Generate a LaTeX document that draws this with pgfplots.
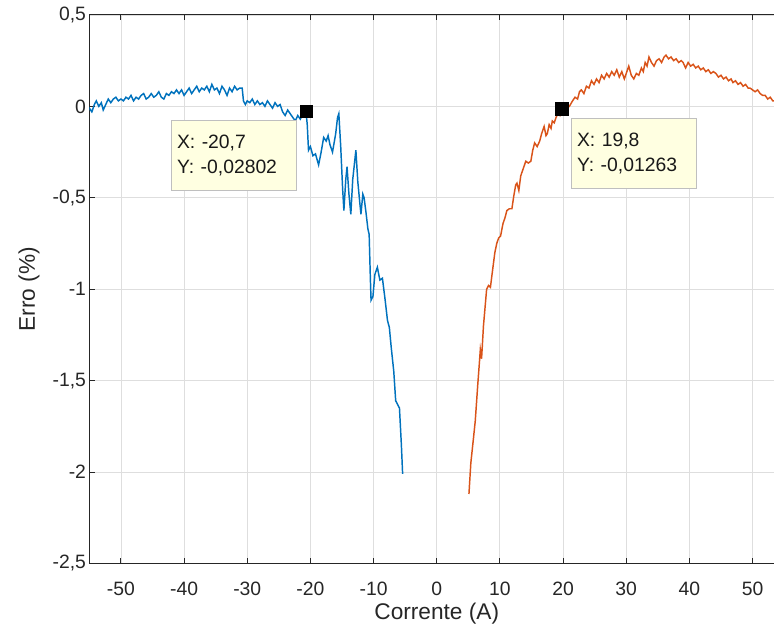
\documentclass[border=0pt]{standalone}
\usepackage{pgfplots}
\pgfplotsset{compat=1.18}
\usepackage{fontspec}
\setmainfont{Liberation Sans}
\definecolor{mblue}{rgb}{0,0.447,0.741}
\definecolor{morange}{rgb}{0.85,0.325,0.098}
\definecolor{tipyellow}{RGB}{255,255,225}
\definecolor{axgray}{RGB}{38,38,38}
\begin{document}
\begin{tikzpicture}
\begin{axis}[
  scale only axis,
  width=521.1pt, height=411.4pt,
  xmin=-55, xmax=55, ymin=-2.5, ymax=0.5,
  xtick={-50,-40,...,50},
  ytick={-2.5,-2,...,0.5},
  grid=major,
  major grid style={color=black!13, line width=0.6pt},
  axis line style={color=axgray, line width=0.8pt},
  tick style={color=axgray, line width=0.8pt},
  major tick length=4pt,
  tick align=inside,
  ticklabel style={font=\fontsize{14.5}{17}\selectfont, text=axgray},
  xticklabel style={yshift=-10pt},
  yticklabel style={xshift=1pt},
  label style={font=\fontsize{17}{20}\selectfont, text=axgray},
  /pgf/number format/.cd, use comma, 1000 sep={}, assume math mode=true,
  /pgfplots/.cd,
  xlabel={Corrente (A)},
  ylabel={Erro (\%)},
  xlabel style={yshift=1pt},
  ylabel style={yshift=3pt},
  clip=true,
]
\addplot[mblue, line width=1.1pt] coordinates {
(-55.6,-0.02) (-55.3,-0.04) (-55.0,-0.01) (-54.6,-0.03) (-54.2,0.01) (-53.9,0.03) (-53.5,0.00) (-53.1,0.02) (-52.8,-0.02) (-52.4,0.01)
(-52.0,0.04) (-51.6,0.02) (-51.2,0.04) (-50.8,0.05) (-50.4,0.03) (-50.0,0.04) (-49.6,0.03) (-49.2,0.05) (-48.8,0.04) (-48.4,0.06)
(-48.0,0.03) (-47.6,0.05) (-47.2,0.04) (-46.8,0.06) (-46.4,0.07) (-46.0,0.04) (-45.6,0.05) (-45.2,0.07) (-44.8,0.05) (-44.4,0.06)
(-44.0,0.08) (-43.6,0.05) (-43.2,0.04) (-42.8,0.07) (-42.4,0.06) (-42.0,0.08) (-41.6,0.07) (-41.2,0.09) (-40.8,0.07) (-40.4,0.09)
(-40.0,0.06) (-39.6,0.08) (-39.2,0.10) (-38.8,0.07) (-38.4,0.09) (-38.0,0.11) (-37.6,0.08) (-37.2,0.10) (-36.8,0.09) (-36.4,0.11)
(-36.0,0.08) (-35.6,0.12) (-35.2,0.09) (-34.8,0.10) (-34.4,0.07) (-34.0,0.11) (-33.6,0.09) (-33.2,0.06) (-32.8,0.10) (-32.4,0.08)
(-32.0,0.11) (-31.6,0.09) (-31.2,0.10) (-30.8,0.10) (-30.6,0.03) (-30.3,0.01) (-30.0,0.03) (-29.6,0.02) (-29.2,0.04) (-28.8,0.01)
(-28.4,0.03) (-28.0,0.01) (-27.6,0.02) (-27.2,0.00) (-26.8,0.03) (-26.4,0.01) (-26.0,-0.01) (-25.6,0.02) (-25.2,0.00) (-24.8,0.01)
(-24.4,-0.03) (-24.0,-0.05) (-23.6,-0.02) (-23.2,-0.04) (-22.8,-0.06) (-22.4,-0.08) (-22.0,-0.05) (-21.6,-0.07) (-21.2,-0.04) (-20.7,-0.028)
(-20.5,-0.10) (-20.3,-0.24) (-20.0,-0.22) (-19.6,-0.27) (-19.2,-0.26) (-18.7,-0.32) (-18.3,-0.25) (-17.9,-0.17) (-17.5,-0.19) (-17.2,-0.16)
(-16.9,-0.21) (-16.5,-0.25) (-16.0,-0.15) (-15.7,-0.06) (-15.5,-0.04) (-15.2,-0.22) (-14.9,-0.45) (-14.7,-0.57) (-14.4,-0.40) (-14.2,-0.33)
(-13.9,-0.48) (-13.6,-0.59) (-13.3,-0.40) (-12.8,-0.24) (-12.5,-0.41) (-12.2,-0.52) (-12.0,-0.59) (-11.7,-0.48) (-11.5,-0.50) (-11.2,-0.58)
(-10.9,-0.67) (-10.7,-0.70) (-10.5,-0.95) (-10.4,-1.06) (-10.1,-1.04) (-9.8,-0.92) (-9.4,-0.88) (-9.0,-0.95) (-8.6,-0.94) (-8.2,-1.05)
(-7.8,-1.17) (-7.5,-1.21) (-7.2,-1.32) (-6.8,-1.45) (-6.5,-1.61) (-6.2,-1.63) (-5.9,-1.65) (-5.6,-1.85) (-5.4,-2.01)
};
\addplot[morange, line width=1.1pt] coordinates {
(5.1,-2.12) (5.4,-1.95) (5.8,-1.82) (6.1,-1.72) (6.5,-1.52) (6.8,-1.38) (6.9,-1.33) (7.1,-1.38) (7.4,-1.20) (7.9,-1.00)
(8.2,-0.98) (8.5,-0.99) (8.9,-0.88) (9.2,-0.80) (9.5,-0.75) (9.8,-0.72) (10.1,-0.71) (10.5,-0.64) (10.8,-0.61) (11.1,-0.57)
(11.5,-0.56) (11.9,-0.56) (12.2,-0.49) (12.5,-0.43) (12.7,-0.42) (13.0,-0.46) (13.3,-0.38) (13.7,-0.34) (14.1,-0.30) (14.5,-0.31)
(14.9,-0.30) (15.2,-0.24) (15.5,-0.20) (15.9,-0.22) (16.3,-0.19) (16.6,-0.15) (17.0,-0.11) (17.3,-0.16) (17.5,-0.15) (17.8,-0.10)
(18.1,-0.12) (18.3,-0.08) (18.6,-0.09) (18.9,-0.06) (19.2,-0.04) (19.5,-0.05) (19.8,-0.01263) (20.2,-0.02) (20.6,0.01) (21.0,0.00)
(21.5,0.03) (21.9,0.05) (22.3,0.04) (22.6,0.08) (22.9,0.09) (23.3,0.07) (23.7,0.11) (24.1,0.10) (24.5,0.14) (24.9,0.12)
(25.3,0.15) (25.7,0.13) (26.1,0.17) (26.5,0.15) (26.9,0.18) (27.3,0.16) (27.7,0.19) (28.1,0.17) (28.5,0.20) (28.9,0.16)
(29.3,0.19) (29.7,0.15) (30.0,0.18) (30.4,0.22) (30.8,0.17) (31.2,0.15) (31.6,0.18) (32.0,0.17) (32.4,0.21) (32.7,0.19)
(33.0,0.24) (33.3,0.22) (33.6,0.27) (34.0,0.24) (34.4,0.22) (34.8,0.25) (35.2,0.26) (35.6,0.24) (36.0,0.27) (36.3,0.28)
(36.7,0.26) (37.1,0.27) (37.5,0.25) (37.9,0.26) (38.3,0.24) (38.7,0.25) (39.0,0.24) (39.4,0.21) (39.8,0.24) (40.2,0.22)
(40.6,0.23) (41.0,0.21) (41.4,0.22) (41.8,0.20) (42.2,0.21) (42.6,0.19) (43.0,0.20) (43.4,0.18) (43.8,0.19) (44.2,0.18)
(44.6,0.16) (45.0,0.17) (45.4,0.15) (45.8,0.16) (46.2,0.14) (46.6,0.15) (46.9,0.13) (47.3,0.14) (47.7,0.12) (48.1,0.13)
(48.5,0.11) (48.9,0.12) (49.3,0.10) (49.6,0.10) (50.0,0.09) (50.4,0.08) (50.8,0.09) (51.2,0.07) (51.6,0.06) (52.0,0.06)
(52.4,0.04) (52.8,0.05) (53.2,0.03) (53.6,0.03) (54.0,0.02) (54.4,0.01) (54.8,0.00)
};
\addplot[only marks, mark=square*, mark size=4.6pt, color=black] coordinates {(-20.7,-0.02802) (19.8,-0.01263)};
\node[draw=black!25, fill=tipyellow, anchor=north west, text width=85.75pt, minimum height=52.5pt, inner xsep=4pt, align=left, font=\fontsize{14.5}{18.75}\selectfont, text=black!90] at (axis cs:-42.0,-0.074) {X: -20,7\\Y: -0,02802};
\node[draw=black!25, fill=tipyellow, anchor=north west, text width=85.75pt, minimum height=52.5pt, inner xsep=4pt, align=left, font=\fontsize{14.5}{18.75}\selectfont, text=black!90] at (axis cs:21.33,-0.065) {X: 19,8\\Y: -0,01263};
\end{axis}
\pgfresetboundingbox
\path (current axis.south west) ++(-67pt,-51.4pt) rectangle ++(580.5pt,474pt);
\end{tikzpicture}
\end{document}
